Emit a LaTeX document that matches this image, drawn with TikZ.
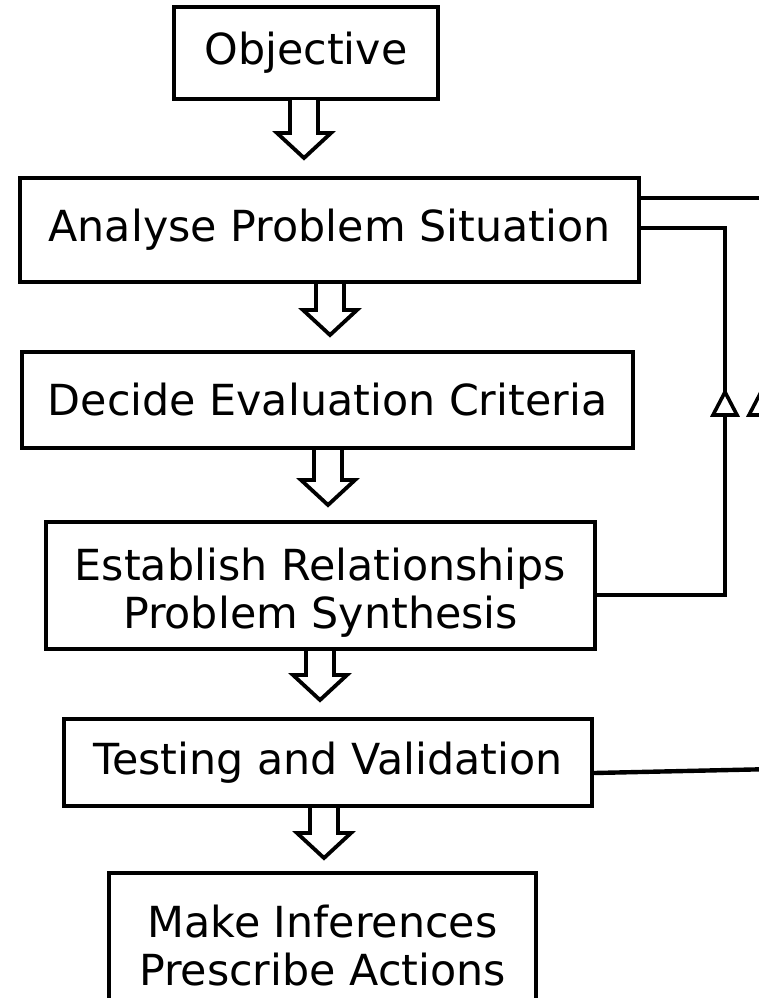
\documentclass[tikz,border=0pt]{standalone}
\usepackage{fontspec}
\setmainfont{DejaVu Sans}
\begin{document}
\begin{tikzpicture}[x=1pt,y=-1pt,
  txt/.style={align=center, font=\fontsize{42.8}{48}\selectfont},
  box/.style={draw, line width=4.4pt, rectangle, inner sep=0pt, txt},
  link/.style={line width=4.4pt},
  hollow/.style={line width=3.8pt, fill=white, line join=miter},
  tri/.style={line width=3.6pt, fill=white, line join=miter}]
\useasboundingbox (0,0) rectangle (759,998);
\fill[white] (0,0) rectangle (759,998);

\node[box, minimum width=264pt, minimum height=92pt] (ob) at (306,53) {Objective};
\node[box, minimum width=619pt, minimum height=104pt] (an) at (329.5,230) {Analyse Problem Situation};
\node[box, minimum width=611pt, minimum height=96pt] (de) at (327.5,400) {Decide Evaluation Criteria};
\node[box, minimum width=549pt, minimum height=127pt,
  label={[txt, yshift=-7pt]center:Establish Relationships\\Problem Synthesis}] (es) at (320.5,585.5) {};
\node[box, minimum width=528pt, minimum height=87pt] (te) at (328,762.5) {Testing and Validation};
\node[box, minimum width=427pt, minimum height=146pt] (mk) at (322.5,946) {Make Inferences\\Prescribe Actions};

% hollow block arrows between boxes
\newcommand{\blockarrow}[3]{%
  \draw[hollow] (#1-14,#2) -- (#1-14,#3-25) -- (#1-27,#3-25) -- (#1,#3)
     -- (#1+27,#3-25) -- (#1+14,#3-25) -- (#1+14,#2);}
\blockarrow{304}{100}{158}
\blockarrow{330}{284}{335}
\blockarrow{328}{450}{505}
\blockarrow{320}{651}{700}
\blockarrow{324}{808}{858}

% connectors on the right
\coordinate (r1) at (775,198);
\coordinate (fb) at (725,228);
\coordinate (r2) at (775,769);
\draw[link] (an.east |- r1) -- (r1);
\draw[link, line join=miter] (es.east |- 0,595) -| (fb) -- (an.east |- fb);
\draw[link] (te.east |- 0,773) -- (r2);

% open arrowheads on the feedback lines
\draw[tri] (713,415) -- (725,392) -- (737,415) -- cycle;
\draw[link] (774,392) -- (774,600);
\draw[tri] (749,415) -- (761,392) -- (773,415) -- cycle;
\end{tikzpicture}
\end{document}
